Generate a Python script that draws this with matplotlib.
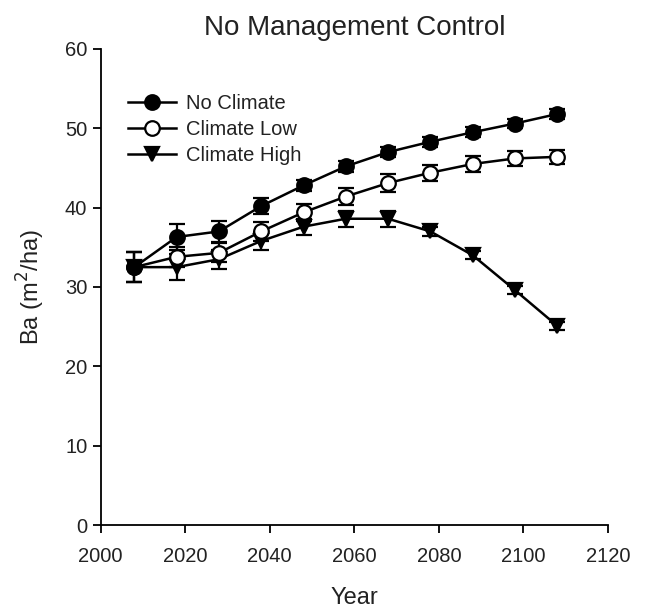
import matplotlib
matplotlib.use("Agg")
import matplotlib.pyplot as plt

plt.rcParams['font.family'] = ['Liberation Sans', 'DejaVu Sans']
plt.rcParams['text.color'] = '#222222'
plt.rcParams['axes.labelcolor'] = '#222222'

anios = [2008, 2018, 2028, 2038, 2048, 2058, 2068, 2078, 2088, 2098, 2108]

sin_clima = [32.5, 36.3, 37.0, 40.2, 42.8, 45.2, 47.0, 48.3, 49.5, 50.6, 51.8]
sin_clima_err = [1.9, 1.7, 1.3, 1.0, 0.7, 0.7, 0.6, 0.6, 0.6, 0.6, 0.6]

clima_bajo = [32.5, 33.8, 34.3, 37.0, 39.4, 41.4, 43.1, 44.4, 45.5, 46.2, 46.4]
clima_bajo_err = [1.9, 1.3, 1.2, 1.2, 1.1, 1.1, 1.1, 1.0, 1.0, 0.9, 0.9]

clima_alto = [32.5, 32.5, 33.5, 35.8, 37.6, 38.6, 38.6, 37.0, 34.0, 29.6, 25.1]
clima_alto_err = [1.9, 1.6, 1.2, 1.1, 1.0, 1.0, 1.0, 0.6, 0.5, 0.5, 0.5]

fig = plt.figure(figsize=(6.46, 6.08), dpi=100)
ax = fig.add_axes([0.1556, 0.1365, 0.7856, 0.783])

comun = dict(color='black', lw=1.8, ms=10.5, capsize=6, elinewidth=1.6, capthick=1.6,
             markeredgewidth=1.6)
ax.errorbar(anios, sin_clima, yerr=sin_clima_err, marker='o', mfc='black',
            label='No Climate', zorder=4, **comun)
ax.errorbar(anios, clima_bajo, yerr=clima_bajo_err, marker='o', mfc='white',
            label='Climate Low', zorder=3, **comun)
ax.errorbar(anios, clima_alto, yerr=clima_alto_err, marker='v', mfc='black',
            label='Climate High', zorder=2, **comun)

ax.set_xlim(2000, 2120)
ax.set_ylim(0, 60)
ax.set_xticks(range(2000, 2121, 20))
ax.set_yticks(range(0, 61, 10))
ax.spines['top'].set_visible(False)
ax.spines['right'].set_visible(False)
ax.spines['left'].set_linewidth(1.3)
ax.spines['bottom'].set_linewidth(1.3)
ax.tick_params(direction='out', length=6, width=1.3, labelsize=14.5,
               color='black', labelcolor='#222222')
ax.tick_params(axis='x', pad=10)

ax.set_xlabel('Year', fontsize=17, labelpad=15)
ax.set_ylabel('Ba (m$^2$/ha)', fontsize=17, labelpad=13)
ax.set_title('No Management Control', fontsize=20, pad=10)

handles, labels = ax.get_legend_handles_labels()
handles = [h[0] for h in handles]
ax.legend(handles, labels, loc='upper left', bbox_to_anchor=(0.03, 0.93),
          frameon=False, fontsize=14.5, handlelength=2.4, handletextpad=0.5,
          labelspacing=0.35, borderaxespad=0.2)

fig.savefig('out.png', dpi=100)
